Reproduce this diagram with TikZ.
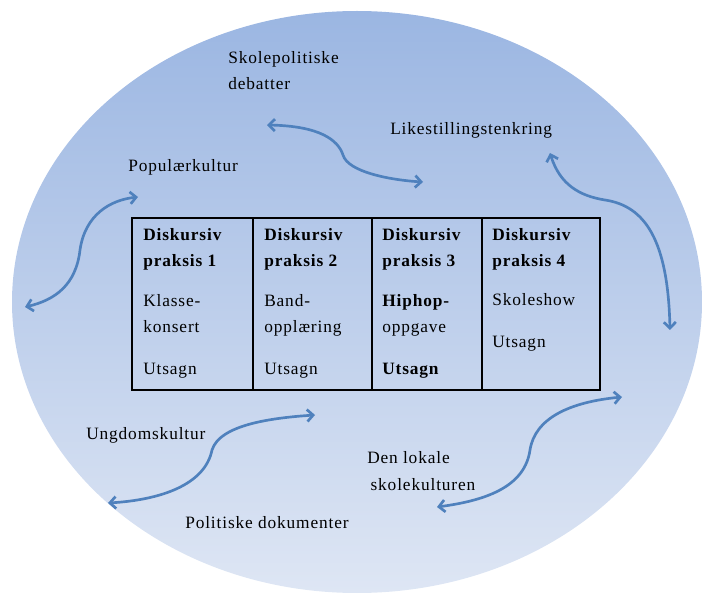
\documentclass[tikz,border=0pt]{standalone}
\usepackage{fontspec}
\setmainfont{Liberation Serif}[LetterSpace=5]
\usepackage{tikz}
\usetikzlibrary{arrows.meta}

\definecolor{arrowblue}{RGB}{79,129,189}
\definecolor{ovaltop}{RGB}{155,182,226}
\definecolor{ovalbottom}{RGB}{222,230,244}

\tikzset{
  lbl/.style={anchor=base west, inner sep=0pt, align=left, font=\fontsize{13}{20}\selectfont},
  swing/.style={draw=arrowblue, line width=2pt, line cap=round,
    arrows={Straight Barb[length=4.5pt,width=9pt]-Straight Barb[length=4.5pt,width=9pt]}},
}

\begin{document}
\begin{tikzpicture}[x=0.75pt,y=0.75pt,yscale=-1,xscale=1]
\useasboundingbox (0,0) rectangle (704,595);

%Shape: Ellipse
\shade [top color=ovaltop, bottom color=ovalbottom] (357,302) ellipse [x radius=345, y radius=291];

%Shape: Table
\draw [line width=1.5pt] (132,218) rectangle (600,390);
\draw [line width=1.5pt] (253,218) -- (253,390);
\draw [line width=1.5pt] (372,218) -- (372,390);
\draw [line width=1.5pt] (482,218) -- (482,390);

% Cell texts (base = last line)
\node [lbl] (head1) at (143,267) {\textbf{Diskursiv}\\\textbf{praksis 1}};
\node [lbl] (head2) at (264,267) {\textbf{Diskursiv}\\\textbf{praksis 2}};
\node [lbl] (head3) at (382,267) {\textbf{Diskursiv}\\\textbf{praksis 3}};
\node [lbl] (head4) at (492,267) {\textbf{Diskursiv}\\\textbf{praksis 4}};
\node [lbl] (event1) at (143,333) {Klasse-\\konsert};
\node [lbl] (event2) at (264,333) {Band-\\opplæring};
\node [lbl] (event3) at (382,333) {\textbf{Hiphop-}\\oppgave};
\node [lbl] (event4) at (492,306) {Skoleshow};
\node [lbl] (utsagn1) at (143,375) {Utsagn};
\node [lbl] (utsagn2) at (264,375) {Utsagn};
\node [lbl] (utsagn3) at (382,375) {\textbf{Utsagn}};
\node [lbl] (utsagn4) at (492,348) {Utsagn};

% Discourse texts
\node [lbl] (debatter) at (228,90) {Skolepolitiske\\debatter};
\node [lbl] (likestilling) at (390,135) {Likestillingstenkring};
\node [lbl] (populaer) at (128,172) {Populærkultur};
\node [lbl] (ungdom) at (86,440) {Ungdomskultur};
\node [lbl] (lokal) at (367,490) {Den lokale\\\hspace*{2.5pt}skolekulturen};
\node [lbl] (politiske) at (185,528) {Politiske dokumenter};

%Curve Lines
\draw [swing] (267,125) .. controls (320,126) and (338,140) .. (343,155) .. controls (348,172) and (390,180) .. (423,182);
\draw [swing] (550,153) .. controls (560,185) and (580,196) .. (605,200) .. controls (645,206) and (668,240) .. (670,330);
\draw [swing] (138,197) .. controls (110,200) and (85,215) .. (80,250) .. controls (76,285) and (55,300) .. (25,307);
\draw [swing] (315,415) .. controls (270,418) and (220,425) .. (212,450) .. controls (205,485) and (160,500) .. (108,503);
\draw [swing] (622,397) .. controls (570,402) and (535,418) .. (530,450) .. controls (525,485) and (490,500) .. (437,507);
\end{tikzpicture}
\end{document}
